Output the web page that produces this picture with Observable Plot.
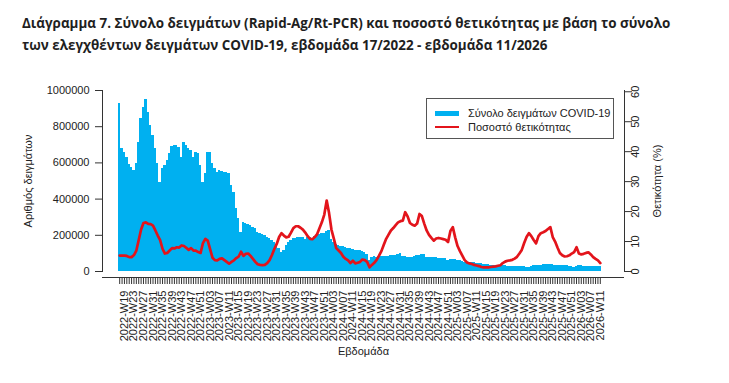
<!DOCTYPE html>
<html>
<head>
<meta charset="utf-8">
<script src="https://cdn.jsdelivr.net/npm/d3@7"></script>
<script src="https://cdn.jsdelivr.net/npm/@observablehq/plot@0.6"></script>
<style>
  html, body { margin: 0; padding: 0; background: #fff; }
  #wrap { position: relative; width: 729px; height: 383px; overflow: hidden; }
  #title { height: 62px; box-sizing: border-box; padding: 12px 0 0 22px; font-family: "Liberation Sans Narrow", "Open Sans", sans-serif; font-weight: bold; color: #1f1f1f; line-height: 22px; white-space: nowrap; }
  #legend { position: absolute; left: 426px; top: 98px; width: 188px; height: 41px; box-sizing: border-box; border: 1px solid #555; background: #fff; font-family: "Liberation Sans", Arial, sans-serif; font-size: 11px; color: #222; white-space: nowrap; }
  .li { position: absolute; left: 8px; height: 14px; display: flex; align-items: center; white-space: nowrap; }
  .sw { width: 24px; margin-right: 9px; flex: none; }
  svg { display: block; }
</style>
</head>
<body>
<div id="wrap">
  <div id="title"><div id="t1"></div><div id="t2"></div></div>
  <div id="chart"></div>
  <div id="legend"></div>
</div>
<script>
// ---- data (weekly, 2022-W17 ... 2026-W11) ----
const titleLines = [
  "Διάγραμμα 7. Σύνολο δειγμάτων (Rapid-Ag/Rt-PCR) και ποσοστό θετικότητας με βάση το σύνολο",
  "των ελεγχθέντων δειγμάτων COVID-19, εβδομάδα 17/2022 - εβδομάδα 11/2026"
];
const seriesNames = ["Σύνολο δειγμάτων COVID-19", "Ποσοστό θετικότητας"];
const yLeftLabel = "Αριθμός δειγμάτων";
const yRightLabel = "Θετικότητα (%)";
const xLabel = "Εβδομάδα";

// total samples, thousands
const samplesK = [
  930,678,659,632,589,576,558,595,714,844,908,950,880,807,751,678,595,493,567,586,
  613,650,691,694,694,687,632,714,696,678,669,632,659,650,586,493,540,659,659,595,
  570,549,558,552,549,545,540,475,438,346,291,217,272,263,260,254,245,236,217,208,
  205,199,190,181,171,162,147,125,107,116,144,159,171,181,184,190,190,190,177,190,
  190,185,195,200,205,210,212,220,225,175,162,150,145,140,136,133,128,125,122,118,
  116,114,108,104,92,60,78,82,80,82,82,83,84,85,86,88,90,95,98,85,
  82,80,79,80,84,88,90,94,93,80,77,76,76,75,74,73,71,70,60,68,
  66,65,63,60,55,52,51,50,49,47,44,43,42,41,40,37,35,34,33,33,
  32,32,31,30,30,30,29,30,30,29,29,22,20,30,32,33,34,35,36,37,
  38,38,36,34,33,33,32,32,31,30,26,24,30,31,31,30,30,30,29,29,
  29,29,29
];
// positivity, %
const positivity = [
  5.3,5.3,5.3,5.2,4.8,4.8,5.5,7,10.5,14,16.2,16.4,15.9,15.8,15.3,13.7,12,10.5,7.6,6,
  6.2,7,7.8,7.7,8.1,8,8.7,8.5,7.9,7.2,7.8,7,7,6.5,6.2,9.5,10.9,10.3,7.5,4.6,
  3.8,3.7,4.2,4.4,3.8,3.2,2.6,3.2,3.7,4.5,5,6.6,5.2,5.9,6,5.2,4.2,3.2,2.4,2.2,
  2.1,2.2,2.8,3.8,5.5,7.5,9.2,11.5,12.8,12,11.4,11.6,13,14.5,15.1,15.1,14.6,14,13,11.8,
  10.9,10.8,11.5,12.5,14.5,16.5,19,23.7,19.5,14,11,7.8,7,6.2,4.9,4.2,3.7,2.8,3.6,2.7,
  2.9,3.2,4,3.8,3.2,1.4,2.2,2.9,3.9,5.3,6.8,8.9,10.9,12.3,13.7,14.5,15.5,16.4,16.8,17,
  19.8,18.4,16.2,15.6,15.3,16,19.2,18.5,16,13.7,12.2,11.2,10.3,11,11.2,11,10.8,10.6,9.8,13.5,
  14.8,11.4,8.5,6.8,5.3,3.8,3,2.7,2.5,2.2,2,1.8,1.5,1.4,1.4,1.4,1.5,1.6,1.7,1.9,
  2.1,2.8,3.3,3.6,3.7,3.9,4.3,4.9,6,7.2,9.5,11.5,12.8,11.8,10.5,9.4,11.8,12.8,13.1,13.5,
  14.2,14.8,11.5,10,8,6.2,5.4,5,5.1,5.4,6,6.5,8.1,6,5.7,5.9,6.2,6.4,5.7,4.8,
  4.2,3.7,2.8
];
// x tick labels (every 4th week, starting at the 3rd week = 2022-W19)
const weekLabels = [
  "2022-W19","2022-W23","2022-W27","2022-W31","2022-W35","2022-W39","2022-W43","2022-W47","2022-W51",
  "2023-W03","2023-W07","2023-W11","2023-W15","2023-W19","2023-W23","2023-W27","2023-W31","2023-W35","2023-W39","2023-W43","2023-W47","2023-W51",
  "2024-W03","2024-W07","2024-W11","2024-W15","2024-W19","2024-W23","2024-W27","2024-W31","2024-W35","2024-W39","2024-W43","2024-W47","2024-W51",
  "2025-W03","2025-W07","2025-W11","2025-W15","2025-W19","2025-W23","2025-W27","2025-W31","2025-W35","2025-W39","2025-W43","2025-W47","2025-W51",
  "2026-W03","2026-W07","2026-W11"
];
const leftTicks = [0, 200000, 400000, 600000, 800000, 1000000];
const rightTicks = [0, 10, 20, 30, 40, 50, 60];

// ---- style ----
const BLUE = "#00b0f0";
const RED = "#e3141b";
const FONT = '"Liberation Sans", Arial, sans-serif';

// ---- title (fit width to reference) ----
const tEls = [document.getElementById("t1"), document.getElementById("t2")];
const ctx = document.createElement("canvas").getContext("2d");
ctx.font = 'bold 100px "Liberation Sans Narrow", "Open Sans", sans-serif';
const w1 = ctx.measureText(titleLines[0]).width;
const titleSize = 100 * 649 / w1;
tEls.forEach((el, k) => { el.textContent = titleLines[k]; el.style.fontSize = titleSize + "px"; });

// ---- chart ----
const N = samplesK.length;
const data = samplesK.map((v, i) => ({i, n: v * 1000, p: positivity[i]}));
const PCT = 1e6 / 60 * 0.993;
const unit = (601 - 118) / N;
const xDomain = [-16 / unit, N + 23 / unit];
const labelIdx = weekLabels.map((_, k) => 2 + 4 * k);

const chart = Plot.plot({
  width: 729,
  height: 321,
  marginLeft: 102,
  marginRight: 105,
  marginTop: 28,
  marginBottom: 112,
  style: {fontFamily: FONT, fontSize: "11px", color: "#222", background: "#fff"},
  x: {type: "linear", domain: xDomain},
  y: {domain: [0, 1e6]},
  marks: [
    Plot.rectY(data, {x1: "i", x2: d => d.i + 1, y: "n", fill: BLUE, shapeRendering: "crispEdges"}),
    Plot.lineY(data, {x: d => d.i + 0.5, y: d => d.p * PCT, stroke: RED, strokeWidth: 2.7, strokeLinejoin: "round"}),
    Plot.frame({anchor: "left", stroke: "#333"}),
    Plot.frame({anchor: "right", stroke: "#333"}),
    Plot.ruleY([0], {dy: 6, stroke: "#333"}),
    Plot.axisY({anchor: "left", ticks: leftTicks, tickFormat: d3.format("d"), tickSize: 7, tickPadding: 6,
      label: yLeftLabel, labelAnchor: "center", labelOffset: 78, labelArrow: "none", stroke: "#333"}),
    Plot.axisY({anchor: "right", ticks: rightTicks.map(p => p * PCT), tickFormat: d => String(Math.round(d / PCT)),
      tickSize: 7, tickPadding: 7, tickRotate: -90, label: yRightLabel, labelAnchor: "center", labelOffset: 36, labelArrow: "none", stroke: "#333"}),
    Plot.axisX({anchor: "bottom", ticks: d3.range(N).map(i => i + 0.5), tickFormat: () => "", tickSize: 7, dy: 6, label: null, stroke: "#333"}),
    Plot.axisX({anchor: "bottom", ticks: labelIdx.map(i => i + 0.5), tickFormat: (d, k) => weekLabels[k],
      tickSize: 0, tickPadding: 13, tickRotate: -90, dy: 6, label: xLabel, labelAnchor: "center", labelOffset: 83, labelArrow: "none"})
  ]
});
document.getElementById("chart").appendChild(chart);

// ---- legend ----
const legend = document.getElementById("legend");
[[BLUE, 5, 7], [RED, 2.5, 21]].forEach(([c, h, top], k) => {
  const row = document.createElement("div");
  row.className = "li";
  row.style.top = top + "px";
  const sw = document.createElement("span");
  sw.className = "sw";
  sw.style.height = h + "px";
  sw.style.background = c;
  const tx = document.createElement("span");
  tx.textContent = seriesNames[k];
  row.appendChild(sw); row.appendChild(tx);
  legend.appendChild(row);
});
</script>
</body>
</html>
